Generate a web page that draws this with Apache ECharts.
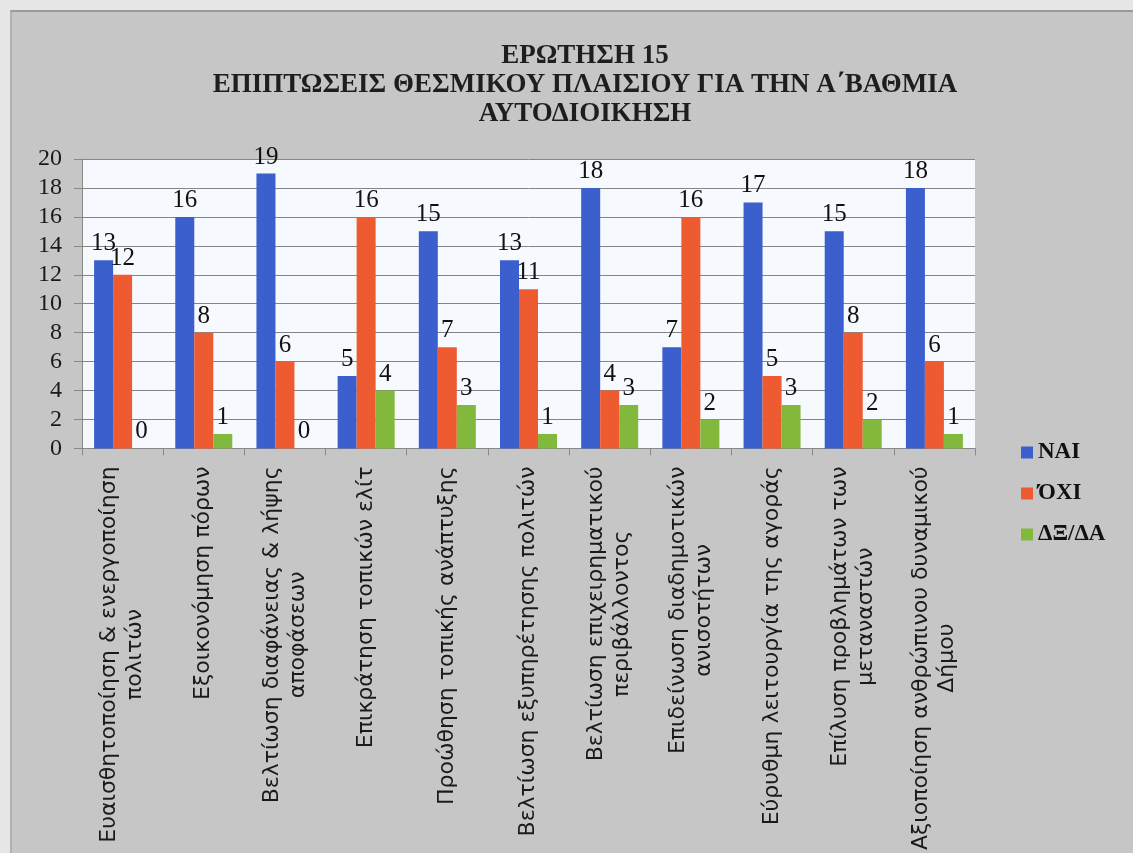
<!DOCTYPE html>
<html>
<head>
<meta charset="utf-8">
<script src="https://cdn.jsdelivr.net/npm/echarts@6/dist/echarts.min.js"></script>
<style>
    html, body { margin: 0; padding: 0; background: #e6e6e6; }
    #chart { position: absolute; left: 10px; top: 10px; width: 1123px; height: 843px;
             border-left: 2px solid #b0b0b0; border-top: 2px solid #9a9a9a; box-sizing: border-box; }
</style>
</head>
<body>
<div id="chart"></div>
<script>
var categories = [
    'Ευαισθητοποίηση & ενεργοποίηση\nπολιτών',
    'Εξοικονόμηση πόρων',
    'Βελτίωση διαφάνειας & λήψης\nαποφάσεων',
    'Επικράτηση τοπικών ελίτ',
    'Προώθηση τοπικής ανάπτυξης',
    'Βελτίωση εξυπηρέτησης πολιτών',
    'Βελτίωση επιχειρηματικού\nπεριβάλλοντος',
    'Επιδείνωση διαδημοτικών\nανισοτήτων',
    'Εύρυθμη λειτουργία της αγοράς',
    'Επίλυση προβλημάτων των\nμεταναστών',
    'Αξιοποίηση ανθρώπινου δυναμικού\nΔήμου'
];
var yes = [13, 16, 19, 5, 15, 13, 18, 7, 17, 15, 18];
var no = [12, 8, 6, 16, 7, 11, 4, 16, 5, 8, 6];
var dontKnow = [0, 1, 0, 4, 3, 1, 3, 2, 3, 2, 1];
var seriesNames = ['ΝΑΙ', 'ΌΧΙ', 'ΔΞ/ΔΑ'];

var chart = echarts.init(document.getElementById('chart'));

var serif = '"Liberation Serif", "DejaVu Serif", serif';

function barSeries(name, data, color) {
    return {
        name: name,
        type: 'bar',
        data: data,
        barWidth: 19,
        barGap: '0%',
        itemStyle: { color: color },
        label: {
            show: true,
            position: 'top',
            distance: 4,
            color: '#111',
            fontFamily: serif,
            fontSize: 25
        }
    };
}

var option = {
    backgroundColor: '#c6c6c6',
    animation: false,
    title: {
        text: 'ΕΡΩΤΗΣΗ 15\nΕΠΙΠΤΩΣΕΙΣ ΘΕΣΜΙΚΟΥ ΠΛΑΙΣΙΟΥ ΓΙΑ ΤΗΝ Α΄ΒΑΘΜΙΑ\nΑΥΤΟΔΙΟΙΚΗΣΗ',
        left: 568,
        textAlign: 'center',
        top: 25,
        textStyle: {
            fontFamily: serif,
            fontWeight: 'bold',
            fontSize: 27,
            lineHeight: 29,
            color: '#1e1e1e'
        }
    },
    legend: {
        orient: 'vertical',
        left: 1004,
        top: 424,
        itemWidth: 12,
        itemHeight: 12,
        itemGap: 18,
        icon: 'rect',
        textStyle: {
            fontFamily: serif,
            fontWeight: 'bold',
            fontSize: 23,
            color: '#111'
        },
        data: seriesNames
    },
    grid: {
        left: 70,
        top: 147,
        right: 158,
        bottom: 401,
        show: true,
        backgroundColor: '#f6f9fd',
        borderWidth: 0
    },
    xAxis: {
        type: 'category',
        data: categories,
        axisLine: { lineStyle: { color: '#888', width: 1 } },
        axisTick: { show: true, length: 7, lineStyle: { color: '#888' } },
        axisLabel: {
            interval: 0,
            rotate: 90,
            margin: 18,
            formatter: function (value) {
                return value.split('\n').map(function (line) {
                    return '{c|' + line + '}';
                }).join('\n');
            },
            rich: {
                c: {
                    align: 'center',
                    fontFamily: '"DejaVu Sans", sans-serif',
                    fontSize: 22,
                    lineHeight: 26,
                    color: '#1a1a1a'
                }
            }
        }
    },
    yAxis: {
        type: 'value',
        min: 0,
        max: 20,
        interval: 2,
        axisLine: { show: true, lineStyle: { color: '#888', width: 1 } },
        axisTick: { show: true, length: 8, lineStyle: { color: '#888' } },
        splitLine: { lineStyle: { color: '#858585', width: 1 } },
        axisLabel: {
            margin: 20,
            fontFamily: serif,
            fontSize: 24,
            color: '#1a1a1a'
        }
    },
    series: [
        barSeries(seriesNames[0], yes, '#3b5fcc'),
        barSeries(seriesNames[1], no, '#ef5b30'),
        barSeries(seriesNames[2], dontKnow, '#82b83c')
    ]
};

chart.setOption(option);
</script>
</body>
</html>
